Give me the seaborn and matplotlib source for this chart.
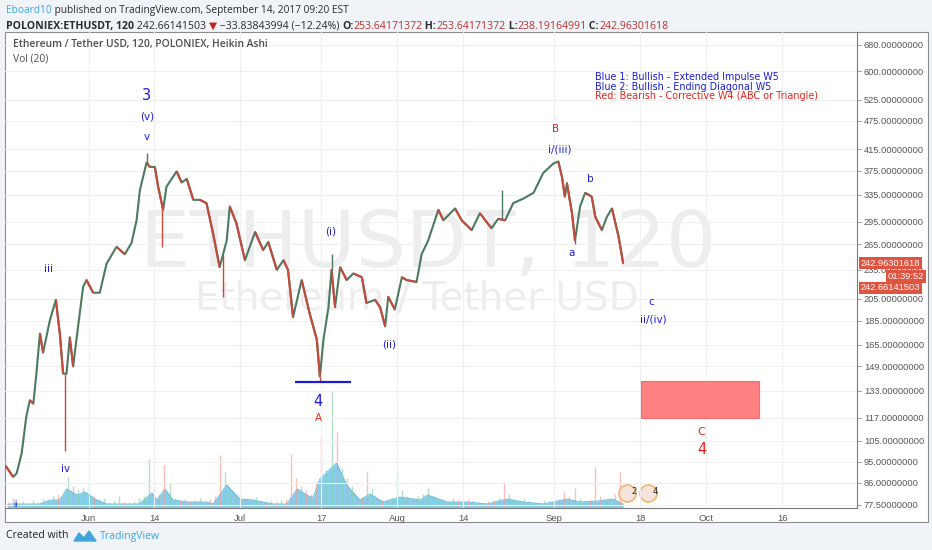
import numpy as np
import pandas as pd
import matplotlib
matplotlib.use("Agg")
import matplotlib.pyplot as plt
import seaborn as sns
from matplotlib.patches import Rectangle, Polygon
from matplotlib.collections import LineCollection
from matplotlib.ticker import FixedLocator, FuncFormatter, NullLocator

# ---------------- data (days are offsets from 2017-06-01) ----------------
price_days = [-16.3, -14.9, -14.2, -13.2, -12.3, -11.6, -10.9, -10.3, -9.6, -8.97,
              -7.65, -6.46, -5.67, -5.02, -4.35, -3.7, -3.04, -2.06, -1.07, -0.4,
              0.91, 2.23, 3.56, 5.53, 7.17, 8.5, 9.49, 10.14, 11.46, 12.11,
              13.1, 13.75, 14.74, 15.4, 17.4, 18.4, 19.4, 20.7, 22.0, 23.3,
              24.6, 25.9, 27.3, 27.9, 29.2, 30.9, 32.9, 34.5, 35.5, 37.2,
              38.5, 39.4, 40.4, 42.1, 43.7, 45.1, 45.7, 46.4, 47.4, 48.0,
              48.7, 49.7, 51.0, 52.3, 54.0, 54.9, 56.6, 57.6, 58.6, 59.2,
              60.5, 61.9, 62.8, 64.8, 65.8, 67.1, 69.1, 70.1, 72.4, 73.7,
              75.7, 77.3, 79.6, 80.9, 82.3, 83.9, 85.9, 87.9, 89.8, 91.8,
              92.8, 93.5, 94.1, 94.5, 95.5, 96.1, 97.1, 98.1, 99.4, 100.1,
              101.4, 102.4, 103.4, 104.7, 105.6]
price_close = [93, 88.5, 90, 99, 117.5, 127, 125, 144, 174, 159,
               185, 204, 174, 144, 144, 171, 149, 180, 217, 224,
               211, 211, 242, 262, 253, 267, 297, 342, 390, 382,
               382, 348, 312, 348, 374, 355, 361, 327, 327, 322,
               279, 238, 270, 317, 293, 246, 281, 258, 268, 235,
               246, 235, 188, 224, 191, 169, 142, 169, 197, 235,
               197, 238, 224, 231, 227, 201, 204, 197, 180, 207,
               195, 227, 224, 222, 253, 270, 312, 297, 314, 297,
               283.5, 307, 286, 299, 297, 322, 329, 338, 371, 388,
               392, 365, 332, 354, 307, 270, 317, 338, 332, 302,
               283.5, 302, 314, 275, 242.66]
wick_days = [-4.68, 11.46, 14.6, 26.5, 45.7, 48.0, 81.6, 96.1]
wick_tips = [100, 407, 262, 207, 139, 253, 342, 265]

vol_days = list(range(-16, 106))
volume = [6, 10, 5, 7, 4, 8, 5,
          9, 6, 12, 14, 10, 31, 22, 18, 20,
          24, 12, 9, 10, 6, 8, 12, 6, 5, 7,
          10, 12, 49, 22, 14, 43, 24, 10, 8, 9,
          7, 8, 10, 6, 9, 12, 53, 36, 18, 12,
          14, 10, 9, 11, 6, 5, 7, 6, 8, 9,
          54, 30, 22, 18, 14, 26, 73, 38, 116, 76,
          40, 30, 22, 12, 10, 36, 20, 10, 8, 9,
          10, 36, 18, 12, 10, 12, 14, 20, 12, 8,
          9, 7, 10, 8, 6, 9, 8, 6, 5, 7,
          8, 10, 26, 14, 9, 8, 10, 7, 6, 5,
          8, 7, 6, 9, 16, 12, 20, 10, 7, 8,
          41, 12, 9, 10, 14, 36]
vol_ma_days = [-16, -15.5, -9.6, -7.6, -5.7, -4.3, -2.3, -0.7, 1.6, 3.6,
               10, 12.5, 13.5, 15.1, 16.7, 19.5, 23.4, 24.6, 27.3, 29.9,
               32.5, 36.4, 39.2, 41.2, 43.1, 44.3, 45.7, 49, 51, 53.6,
               55.6, 58.2, 61.5, 65.5, 67, 70.8, 74.8, 78.7, 82.7, 85.9,
               89.8, 94.5, 97.1, 100.5, 103.6, 105.6]
vol_ma = [3, 4, 4, 8, 8, 19, 13, 16, 8, 4,
          4, 15, 8, 19, 8, 6, 6, 4, 23, 9,
          8, 4, 4, 19, 13, 10, 29, 45, 23, 8,
          14, 6, 11, 8, 13, 6, 6, 4, 9, 6,
          4, 9, 6, 7, 9, 4]

price_ticks = [680, 600, 525, 475, 415, 375, 335, 295, 265, 235, 205, 185,
               165, 149, 133, 117, 105, 95, 86, 77.5]
date_tick_days = [0, 13, 30, 46, 61, 74, 92, 109, 122, 137]
date_tick_labels = ["Jun", "14", "Jul", "17", "Aug", "14", "Sep", "18", "Oct", "16"]

support_level = 138.2
support_from, support_to = 40.8, 51.8
target_days = (109.2, 132.5)
target_prices = (117.0, 139.3)

event_days = [106.4, 110.5]
event_labels = ["2", "4"]

BLUE = "#1c1cd6"
RED = "#e8211d"
wave_labels = [
    ("3", 11.5, 536, BLUE, 10.5), ("(v)", 11.66, 485, BLUE, 7.5), ("v", 11.46, 440, BLUE, 7.5),
    ("iii", -7.9, 236, BLUE, 7.5), ("iv", -4.49, 91.8, BLUE, 7.5), ("ii", -14.4, 77.6, BLUE, 5.5),
    ("4", 45.38, 126, BLUE, 10.5), ("A", 45.5, 117, RED, 7.5),
    ("(i)", 47.83, 282, BLUE, 7.5), ("(ii)", 59.4, 165.4, BLUE, 7.5),
    ("B", 92.35, 456, RED, 7.5), ("i/(iii)", 93.1, 414, BLUE, 7.5),
    ("b", 99.2, 361.5, BLUE, 7.5), ("a", 95.45, 255, BLUE, 7.5),
    ("c", 111.1, 201.6, BLUE, 7.5), ("ii/(iv)", 111.5, 186.3, BLUE, 7.5),
    ("C", 121.1, 109.2, RED, 8), ("4", 121.2, 100.9, RED, 10.5),
]
legend_lines = [("Blue 1: Bullish - Extended Impulse W5", BLUE),
                ("Blue 2: Bullish - Ending Diagonal W5", BLUE),
                ("Red: Bearish - Corrective W4 (ABC or Triangle)", RED)]

# ---------------- figure ----------------
sns.set_theme(style="white")
plt.rcParams["font.family"] = ["DejaVu Sans"]
W, H = 932, 550
fig = plt.figure(figsize=(W / 100, H / 100), dpi=100, facecolor="#f0f3f7")

ax_back = fig.add_axes([0, 0, 1, 1], zorder=-5)
ax_back.set_xlim(0, W); ax_back.set_ylim(H, 0); ax_back.axis("off")
ax_back.add_patch(Rectangle((5, 32), 923, 490, facecolor="white", edgecolor="#8c8c8c", lw=0.8))

pos = [5 / W, (H - 508) / H, 852 / W, 476 / H]
ax = fig.add_axes(pos, zorder=2)
ax.patch.set_visible(False)
ax_v = fig.add_axes(pos, zorder=1, sharex=ax)
ax_v.patch.set_visible(False)

df = pd.DataFrame({"day": price_days, "close": price_close})
xmin, xmax = -16.5, 151.8
ax.set_yscale("log")
ax.set_xlim(xmin, xmax)
ax.set_ylim(76.4, 722)

# watermark (bottom layer)
ax_v.text(0.4965, 0.5525, "ETHUSDT, 120", transform=ax_v.transAxes, fontsize=57,
          color="#ededed", ha="center", va="center", family="DejaVu Sans", zorder=0)
ax_v.text(0.4836, 0.441, "Ethereum / Tether USD", transform=ax_v.transAxes, fontsize=28,
          color="#ededed", ha="center", va="center", family="DejaVu Sans", zorder=0)

# volume
ax_v.set_ylim(0, 476)
interp_p = np.interp(np.array(vol_days, float), df["day"], df["close"])
prev_p = np.interp(np.array(vol_days, float) - 1, df["day"], df["close"])
vcols = ["#86cfa9" if a >= b else "#f09c92" for a, b in zip(interp_p, prev_p)]
ax_v.fill_between(vol_ma_days, 0, vol_ma, color="#6fc6ea", alpha=0.85, lw=0, zorder=2)
ax_v.plot(vol_ma_days, vol_ma, color="#4fb6e0", lw=0.6, zorder=2.1)
ax_v.vlines(vol_days, 0, volume, colors=vcols, lw=1.0, alpha=0.65, zorder=3)
ax_v.scatter(event_days, [15] * len(event_days), s=150, facecolor="#f6e3dc",
             edgecolor="#f2b56b", lw=1.2, zorder=4)
for d, t in zip(event_days, event_labels):
    ax_v.text(d + 0.9, 16, t, fontsize=6, color="#222", ha="left", va="center", zorder=5)
ax_v.set_yticks([])
for s in ax_v.spines.values():
    s.set_visible(False)
ax_v.tick_params(axis="x", which="both", bottom=False, labelbottom=False)

# price
sns.lineplot(data=df, x="day", y="close", ax=ax, color="#4a7a5f", lw=1.5, zorder=3,
             estimator=None, sort=False)
pts = np.column_stack([df["day"], df["close"]])
segs = [[pts[i - 1], pts[i]] for i in range(1, len(pts)) if pts[i, 1] < pts[i - 1, 1]]
ax.add_collection(LineCollection(segs, colors="#c9483b", lw=1.5, zorder=3.2))
wick_base = np.interp(wick_days, df["day"], df["close"])
wcol = ["#c9483b" if t < b else "#4a7a5f" for t, b in zip(wick_tips, wick_base)]
ax.vlines(wick_days, wick_base, wick_tips, colors=wcol, lw=1.0, zorder=3)

# drawings
ax.hlines(support_level, support_from, support_to, color="#1a1ad0", lw=1.6, zorder=4)
ax.add_patch(Rectangle((target_days[0], target_prices[0]), target_days[1] - target_days[0],
                       target_prices[1] - target_prices[0], facecolor="#ff8080",
                       edgecolor="#f26d6d", lw=0.8, zorder=4))
for t, d, p, c, s in wave_labels:
    ax.text(d, p, t, color=c, fontsize=s, ha="center", va="center", zorder=5)
for i, (t, c) in enumerate(legend_lines):
    ax.text(0.6925, 0.906 - i * 0.0205, t, transform=ax.transAxes, color=c,
            fontsize=6.9, ha="left", va="center", zorder=5)

# axes styling
ax.yaxis.tick_right()
ax.yaxis.set_major_locator(FixedLocator(price_ticks))
ax.yaxis.set_major_formatter(FuncFormatter(lambda v, p: f"{v:.8f}"))
ax.yaxis.set_minor_locator(NullLocator())
ax.set_xticks(date_tick_days, date_tick_labels)
ax.tick_params(axis="y", which="major", direction="out", length=3, width=0.6, pad=2,
               labelsize=6.7, labelcolor="#555555", color="#888888", right=True, left=False)
ax.tick_params(axis="x", direction="out", length=3, width=0.6, pad=1.5,
               labelsize=6.8, labelcolor="#555555", color="#888888")
for lab in ax.get_yticklabels() + ax.get_xticklabels():
    lab.set_family("Liberation Sans")
ax.grid(True, color="#f0f0f0", lw=0.8)
ax.set_axisbelow(True)
ax.set_xlabel(""); ax.set_ylabel("")
ax.spines["top"].set_visible(False)
ax.spines["left"].set_visible(False)
for k in ("right", "bottom"):
    ax.spines[k].set_color("#7a7a7a"); ax.spines[k].set_linewidth(0.8)

# ---------------- front overlay: header, title, badges, footer ----------------
axf = fig.add_axes([0, 0, 1, 1], zorder=10)
axf.set_xlim(0, W); axf.set_ylim(H, 0); axf.axis("off")
FAM = ["Open Sans", "DejaVu Sans"]


def seq_text(x, y, parts, size):
    t = axf.text(x, y, parts[0][0], color=parts[0][1], fontweight=parts[0][2],
                 fontsize=size, family=FAM, va="bottom", ha="left")
    for s, c, w in parts[1:]:
        t = axf.annotate(s, xy=(1, 0), xycoords=t, color=c, fontweight=w,
                         fontsize=size, family=FAM, va="bottom", ha="left")


DARK = "#2a2a2a"
HRED = "#b8322f"
seq_text(6, 16, [("Eboard10", "#3fa6db", "normal"),
                 (" published on TradingView.com, September 14, 2017 09:20 EST", DARK, "normal")], 7.3)
seq_text(6, 32, [("POLONIEX:ETHUSDT, 120", DARK, "bold"), (" 242.66141503 ", DARK, "normal"),
                 ("▼", "#c62020", "normal"), (" \u221233.83843994 (\u221212.24%) ", DARK, "normal"),
                 ("O:", DARK, "bold"), ("253.64171372", HRED, "normal"),
                 (" H:", DARK, "bold"), ("253.64171372", HRED, "normal"),
                 (" L:", DARK, "bold"), ("238.19164991", HRED, "normal"),
                 (" C:", DARK, "bold"), ("242.96301618", HRED, "normal")], 7.55)

axf.text(13, 45, "Ethereum / Tether USD, 120, POLONIEX, Heikin Ashi", color="#4d4d4d",
         fontsize=7.4, fontweight="semibold", family=FAM, va="center", ha="left")
axf.text(13, 59, "Vol (20)", color="#4d4d4d", fontsize=7.4, family=FAM, va="center", ha="left")

badge = dict(boxstyle="square,pad=0.18", fc="#df533f", ec="none")
axf.text(861, 263, "242.96301618", color="white", fontsize=6.7, family="Liberation Sans",
         va="center", ha="left", bbox=badge)
axf.text(888, 276.5, "01:39:52", color="white", fontsize=6.7, family="Liberation Sans",
         va="center", ha="left", bbox=badge)
axf.text(861, 288, "242.66141503", color="white", fontsize=6.7, family="Liberation Sans",
         va="center", ha="left", bbox=badge)

axf.text(6, 536, "Created with", color="#222222", fontsize=7.6, family=FAM, va="center", ha="left")
axf.add_patch(Polygon([(74, 541), (79, 533), (84, 538), (89, 531), (96, 541)],
                      closed=True, facecolor="#3fa6db", edgecolor="#3fa6db", lw=1))
axf.text(100, 536, "TradingView", color="#3fa6db", fontsize=7.6, family=FAM, va="center", ha="left")

fig.savefig("out.png", dpi=100, facecolor=fig.get_facecolor())
